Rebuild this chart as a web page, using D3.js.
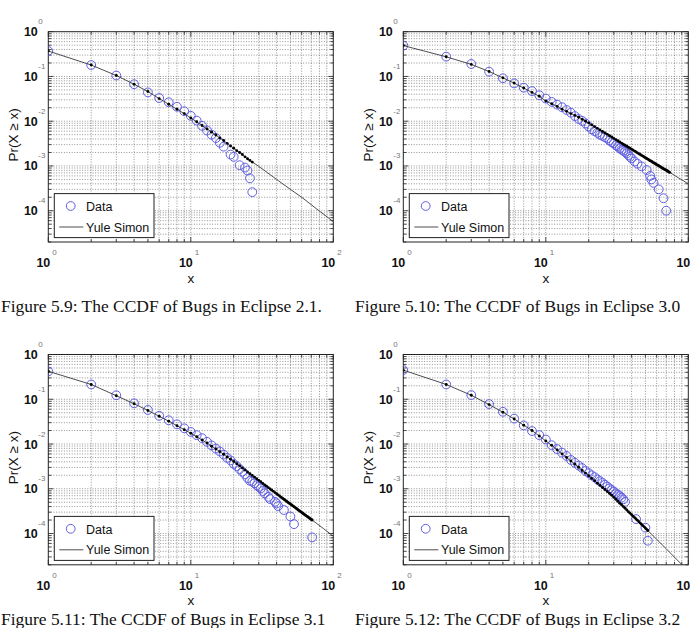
<!DOCTYPE html>
<html><head><meta charset="utf-8">
<script src="https://cdn.jsdelivr.net/npm/d3@7/dist/d3.min.js"></script>
<style>body{margin:0;background:#fff;} svg{display:block;}</style>
</head><body>
<svg id="c" width="690" height="628"></svg>
<script>
// ---------- text ----------
const captions = [
  "Figure 5.9: The CCDF of Bugs in Eclipse 2.1.",
  "Figure 5.10: The CCDF of Bugs in Eclipse 3.0",
  "Figure 5.11: The CCDF of Bugs in Eclipse 3.1",
  "Figure 5.12: The CCDF of Bugs in Eclipse 3.2"
];
const legendLabels = ["Data", "Yule Simon"];
const yLabel = "Pr(X \u2265 x)";
const xLabel = "x";
const xTickValues = [1, 10, 100];
const xTickExps = ["0", "1", "2"];
const yTickValues = [1, 0.1, 0.01, 0.001, 0.0001];
const yTickExps = ["0", "-1", "-2", "-3", "-4"];

// ---------- Eclipse 2.1 ----------
const dataX_21 = [1,2,3,4,5,6,7,8,9,10,11,12,13,14,15,16,17,19,20,22,24,25,26,27];
const dataP_21 = [0.37,0.18,0.105,0.067,0.044,0.033,0.0265,0.021,0.0167,0.0132,0.0103,0.0079,0.0062,0.005,0.0042,0.0033,0.0027,0.0018,0.0016,0.00104,0.00092,0.00079,0.00053,0.00026];
const fitX_21 = [1,2,3,4,5,6,7,8,9,10,11,12,13,14,15,16,17,18,19,20,21,22,23,24,25,26,27];
const fitP_21 = [0.37,0.18,0.105,0.067,0.046,0.032,0.024,0.0185,0.0148,0.0118,0.0097,0.008,0.0067,0.0057,0.0049,0.0042,0.0037,0.0032,0.0028,0.0025,0.0022,0.002,0.0018,0.0016,0.00145,0.00133,0.00122];
const tailX_21 = [30,40,50,60,80,100];
const tailP_21 = [0.00098,0.0005,0.0003,0.0002,0.000098,0.000057];

// ---------- Eclipse 3.0 ----------
const dataX_30 = [1,2,3,4,5,6,7,8,9,10,11,12,13,14,15,16,17,18,19,20,21,22,23,24,25,26,27,28,29,30,31,32,33,34,35,36,37,38,39,40,42,44,47,51,54,55,57,62,67,70];
const dataP_30 = [0.49,0.277,0.19,0.128,0.091,0.07,0.056,0.047,0.038,0.032,0.027,0.0235,0.0205,0.0178,0.0155,0.013,0.0112,0.0102,0.0089,0.0076,0.0066,0.006,0.0055,0.005,0.0047,0.0044,0.0041,0.0037,0.0034,0.0032,0.0029,0.0027,0.0025,0.0023,0.0022,0.00205,0.0019,0.00175,0.0016,0.00148,0.00126,0.00112,0.00098,0.00081,0.0006,0.0005,0.00042,0.0003,0.00019,0.0001];
const fitX_30 = [1,2,3,4,5,6,7,8,9,10,11,12,13,14,15,16,17,18,19,20,21,22,23,24,25,26,27,28,29,30,31,32,33,34,35,36,37,38,39,40,41,42,43,44,45,46,47,48,49,50,51,52,53,54,55,56,57,58,59,60,61,62,63,64,65,66,67,68,69,70,71,72,73,74];
const fitP_30 = [0.49,0.275,0.186,0.129,0.093,0.071,0.055,0.044,0.036,0.0282,0.0245,0.0214,0.0186,0.0166,0.0148,0.0135,0.0123,0.011,0.01,0.0091,0.0083,0.00757,0.00693,0.00638,0.0059,0.00547,0.00508,0.00473,0.00443,0.00414,0.00388,0.00365,0.00344,0.00324,0.00306,0.0029,0.00275,0.00261,0.00248,0.00236,0.00225,0.00215,0.00205,0.00196,0.00188,0.0018,0.00172,0.00166,0.00159,0.00153,0.00147,0.00142,0.00136,0.00131,0.00127,0.00123,0.00118,0.00115,0.00111,0.00107,0.00104,0.00101,0.00098,0.00095,0.00092,0.00089,0.00087,0.00084,0.00082,0.0008,0.00078,0.00076,0.00073,0.00072];
const tailX_30 = [85,100];
const tailP_30 = [0.000547,0.0004];

// ---------- Eclipse 3.1 ----------
const dataX_31 = [1,2,3,4,5,6,7,8,9,10,11,12,13,14,15,16,17,18,19,20,21,22,23,24,25,26,27,28,29,30,31,32,33,35,36,39,40,41,45,50,53,71];
const dataP_31 = [0.42,0.214,0.123,0.081,0.0575,0.0427,0.0339,0.0275,0.0224,0.0186,0.0158,0.0135,0.0112,0.0093,0.0079,0.0068,0.0058,0.0049,0.0043,0.0036,0.0032,0.00275,0.0024,0.00209,0.00174,0.00151,0.00145,0.00132,0.0012,0.0011,0.00102,0.00089,0.00079,0.00066,0.00059,0.00051,0.00047,0.00041,0.000335,0.00024,0.000162,0.000082];
const fitX_31 = [1,2,3,4,5,6,7,8,9,10,11,12,13,14,15,16,17,18,19,20,21,22,23,24,25,26,27,28,29,30,31,32,33,34,35,36,37,38,39,40,41,42,43,44,45,46,47,48,49,50,51,52,53,54,55,56,57,58,59,60,61,62,63,64,65,66,67,68,69,70,71];
const fitP_31 = [0.422,0.214,0.12,0.0794,0.0562,0.0417,0.0324,0.0257,0.0209,0.0174,0.0145,0.0123,0.0105,0.00891,0.00776,0.00676,0.00589,0.00513,0.00457,0.00407,0.00363,0.00325,0.00292,0.00263,0.00238,0.00217,0.00199,0.00182,0.00167,0.00154,0.00143,0.00132,0.00122,0.00114,0.00106,0.000995,0.000931,0.000875,0.00082,0.000773,0.000729,0.000687,0.00065,0.000615,0.000583,0.000555,0.000526,0.000501,0.000476,0.000455,0.000435,0.000415,0.000396,0.000379,0.000363,0.000348,0.000333,0.00032,0.000308,0.000296,0.000284,0.000274,0.000264,0.000254,0.000245,0.000237,0.000229,0.000221,0.000213,0.000206,0.0002];
const tailX_31 = [85,100];
const tailP_31 = [0.00013,0.000087];

// ---------- Eclipse 3.2 ----------
const dataX_32 = [1,2,3,4,5,6,7,8,9,10,11,12,13,14,15,16,17,18,19,20,21,22,23,24,25,26,27,28,29,30,31,32,33,34,35,36,43,50,52];
const dataP_32 = [0.45,0.214,0.124,0.078,0.0525,0.037,0.026,0.0195,0.0158,0.0126,0.0094,0.0077,0.0064,0.0054,0.0044,0.0038,0.0033,0.0029,0.0025,0.00224,0.002,0.00182,0.00162,0.00148,0.00135,0.00123,0.00112,0.00102,0.00093,0.00087,0.00079,0.00074,0.00069,0.00063,0.00058,0.00051,0.00021,0.000135,0.000069];
const fitX_32 = [1,2,3,4,5,6,7,8,9,10,11,12,13,14,15,16,17,18,19,20,21,22,23,24,25,26,27,28,29,30,31,32,33,34,35,36,37,38,39,40,41,42,43,44,45,46,47,48,49,50,51,52];
const fitP_32 = [0.447,0.214,0.123,0.0759,0.0513,0.0363,0.0263,0.02,0.0151,0.0117,0.00933,0.00741,0.00603,0.00501,0.00417,0.00355,0.00302,0.00257,0.00224,0.00195,0.00171,0.00151,0.00133,0.00119,0.00107,0.00096,0.00087,0.000787,0.000716,0.000643,0.000582,0.000527,0.000476,0.000438,0.000399,0.000366,0.000336,0.000308,0.000285,0.000264,0.000244,0.000227,0.000211,0.000197,0.000183,0.000171,0.00016,0.00015,0.000141,0.000132,0.000124,0.000117];
const tailX_32 = [60,70,80,100];
const tailP_32 = [0.000074,0.0000457,0.0000295,0.0000145];

// ---------- layout ----------
const svg = d3.select("#c");
const CW = 690;
const W = 285, H = 210.3;
const panels = [
  {L: 48.3,  T: 31.7,  dx: dataX_21, dp: dataP_21, fx: fitX_21, fp: fitP_21, tx: tailX_21, tp: tailP_21},
  {L: 403.3, T: 31.7,  dx: dataX_30, dp: dataP_30, fx: fitX_30, fp: fitP_30, tx: tailX_30, tp: tailP_30},
  {L: 48.3,  T: 354.5, dx: dataX_31, dp: dataP_31, fx: fitX_31, fp: fitP_31, tx: tailX_31, tp: tailP_31},
  {L: 403.3, T: 354.5, dx: dataX_32, dp: dataP_32, fx: fitX_32, fp: fitP_32, tx: tailX_32, tp: tailP_32}
];
const SANS = "'Liberation Sans', Arial, sans-serif";
const blue = "#5f5fe2";

panels.forEach((p, i) => {
  const x = d3.scaleLog().domain([1, 100]).range([p.L, p.L + W]);
  const y = d3.scaleLog().domain([2e-5, 1]).range([p.T + H, p.T]);
  const g = svg.append("g");
  const B = p.T + H, R = p.L + W;

  const cid = "clip" + i;
  svg.append("clipPath").attr("id", cid).append("rect")
    .attr("x", p.L).attr("y", p.T).attr("width", W).attr("height", H);

  // grid
  const xt = x.ticks(), yt = y.ticks();
  const grid = g.append("g").attr("stroke", "#7a7a7a").attr("stroke-width", 0.8)
    .attr("stroke-dasharray", "1,1.6");
  grid.selectAll("line.gx").data(xt.filter(v => v > 1 && v < 100)).join("line")
    .attr("x1", d => x(d)).attr("x2", d => x(d)).attr("y1", p.T).attr("y2", B);
  grid.selectAll("line.gy").data(yt.filter(v => v > 2e-5 && v < 1)).join("line")
    .attr("y1", d => y(d)).attr("y2", d => y(d)).attr("x1", p.L).attr("x2", R);

  // ticks
  const isMajor = v => Math.abs(Math.log10(v) - Math.round(Math.log10(v))) < 1e-6;
  const tk = g.append("g").attr("stroke", "#222").attr("stroke-width", 0.8);
  xt.forEach(v => {
    const len = isMajor(v) ? 5 : 3;
    tk.append("line").attr("x1", x(v)).attr("x2", x(v)).attr("y1", B).attr("y2", B - len);
    tk.append("line").attr("x1", x(v)).attr("x2", x(v)).attr("y1", p.T).attr("y2", p.T + len);
  });
  yt.forEach(v => {
    const len = isMajor(v) ? 5 : 3;
    tk.append("line").attr("y1", y(v)).attr("y2", y(v)).attr("x1", p.L).attr("x2", p.L + len);
    tk.append("line").attr("y1", y(v)).attr("y2", y(v)).attr("x1", R).attr("x2", R - len);
  });

  // frame
  g.append("rect").attr("x", p.L).attr("y", p.T).attr("width", W).attr("height", H)
    .attr("fill", "none").attr("stroke", "#222").attr("stroke-width", 1);

  // tick labels
  xTickValues.forEach((v, k) => {
    g.append("text").attr("x", x(v) + 2).attr("y", B + 25).attr("text-anchor", "end")
      .attr("font-family", SANS).attr("font-size", 12.5).attr("font-weight", 600)
      .attr("fill", "#111").text("10");
    if (x(v) + 4 < CW) {
      g.append("text").attr("x", x(v) + 4).attr("y", B + 13).attr("text-anchor", "start")
        .attr("font-family", SANS).attr("font-size", 8).attr("fill", "#777").text(xTickExps[k]);
    }
  });
  yTickValues.forEach((v, k) => {
    g.append("text").attr("x", p.L - 10.5).attr("y", y(v) + 4.5).attr("text-anchor", "end")
      .attr("font-family", SANS).attr("font-size", 12.5).attr("font-weight", 600)
      .attr("fill", "#111").text("10");
    g.append("text").attr("x", p.L - 10).attr("y", y(v) - 7.5).attr("text-anchor", "start")
      .attr("font-family", SANS).attr("font-size", 8).attr("fill", "#777").text(yTickExps[k]);
  });

  // axis labels
  g.append("text").attr("x", p.L + W / 2).attr("y", B + 40.5).attr("text-anchor", "middle")
    .attr("font-family", SANS).attr("font-size", 13.5).attr("fill", "#111").text(xLabel);
  g.append("text").attr("transform", `translate(${p.L - 30},${p.T + H / 2 - 2}) rotate(-90)`)
    .attr("text-anchor", "middle").attr("font-family", SANS).attr("font-size", 13.5)
    .attr("fill", "#111").text(yLabel);

  // marks
  const marks = g.append("g").attr("clip-path", `url(#${cid})`);
  marks.selectAll("circle.d").data(p.dx.map((v, k) => [v, p.dp[k]])).join("circle")
    .attr("cx", d => x(d[0])).attr("cy", d => y(d[1])).attr("r", 4.4)
    .attr("fill", "none").attr("stroke", blue).attr("stroke-width", 1);
  const linePts = p.fx.map((v, k) => [v, p.fp[k]]).concat(p.tx.map((v, k) => [v, p.tp[k]]));
  marks.append("path").datum(linePts)
    .attr("d", d3.line().x(d => x(d[0])).y(d => y(d[1])))
    .attr("fill", "none").attr("stroke", "#3a3a3a").attr("stroke-width", 0.9);
  marks.selectAll("circle.f").data(p.fx.map((v, k) => [v, p.fp[k]])).join("circle")
    .attr("cx", d => x(d[0])).attr("cy", d => y(d[1])).attr("r", 1.45).attr("fill", "#000");

  // legend
  const lg = g.append("g");
  lg.append("rect").attr("x", p.L + 6).attr("y", B - 48.4).attr("width", 99.7).attr("height", 44)
    .attr("fill", "#fff").attr("stroke", "#222").attr("stroke-width", 1);
  lg.append("circle").attr("cx", p.L + 22.4).attr("cy", B - 36).attr("r", 4.4)
    .attr("fill", "none").attr("stroke", blue).attr("stroke-width", 1);
  lg.append("text").attr("x", p.L + 37.7).attr("y", B - 31).attr("font-family", SANS)
    .attr("font-size", 12.5).attr("fill", "#111").text(legendLabels[0]);
  lg.append("line").attr("x1", p.L + 11).attr("x2", p.L + 35).attr("y1", B - 15).attr("y2", B - 15)
    .attr("stroke", "#3a3a3a").attr("stroke-width", 0.9);
  lg.append("text").attr("x", p.L + 37.7).attr("y", B - 10.5).attr("font-family", SANS)
    .attr("font-size", 12.5).attr("fill", "#111").text(legendLabels[1]);
});

// captions
const capPos = [[1, 311.5], [355, 311.5], [1, 625], [355, 625]];
const SERIF = "'Liberation Serif', 'DejaVu Serif', serif";
const probe = svg.append("text").attr("font-family", SERIF).attr("font-size", 15).text(captions[0]);
const fs = 15 * 321 / probe.node().getComputedTextLength();
probe.remove();
captions.forEach((c, k) => {
  svg.append("text").attr("x", capPos[k][0]).attr("y", capPos[k][1])
    .attr("font-family", SERIF).attr("font-size", fs).attr("fill", "#111").text(c);
});
</script>
</body></html>
